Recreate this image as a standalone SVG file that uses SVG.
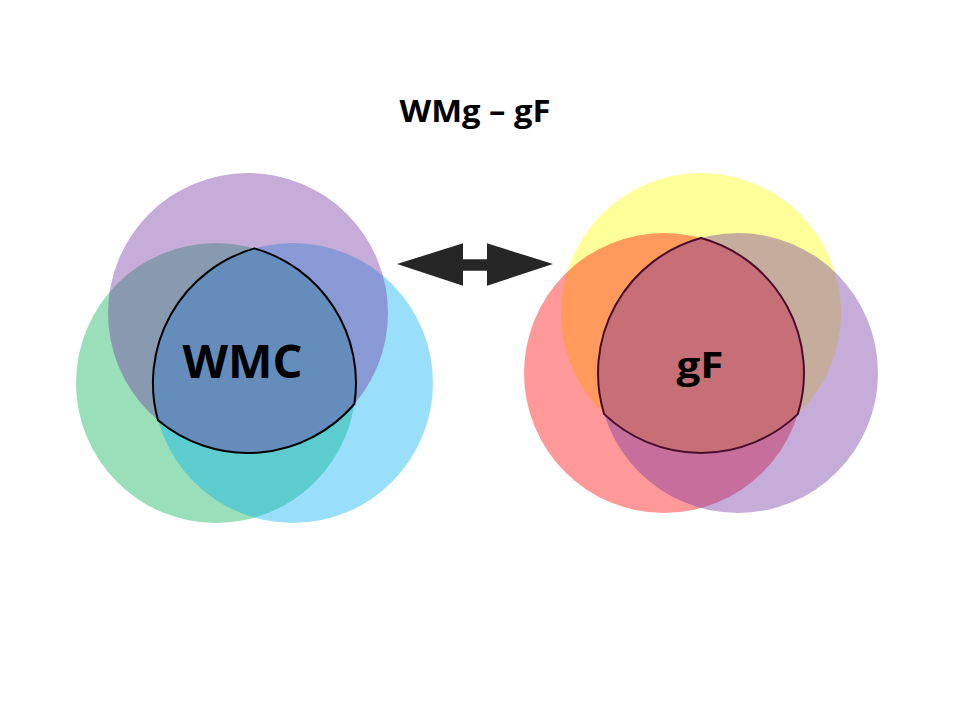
<svg xmlns="http://www.w3.org/2000/svg" width="960" height="720" viewBox="0 0 960 720">
  <style>
    .c { fill-opacity: 0.4; stroke: none; }
    .lbl { font-family: "Open Sans", "Liberation Sans", sans-serif; font-weight: bold; fill: #000; text-anchor: middle; }
    .outline { fill: none; stroke-width: 2; }
  </style>
  <rect width="960" height="720" fill="#ffffff"/>
  <g id="title">
    <text class="lbl" x="475" y="121.5" font-size="30" textLength="151" lengthAdjust="spacingAndGlyphs">WMg – gF</text>
  </g>
  <g id="wmc-venn">
    <circle id="wmc-green" class="c" cx="216" cy="383" r="140" fill="#00B050"/>
    <circle id="wmc-cyan" class="c" cx="293" cy="383" r="140" fill="#00B0F0"/>
    <circle id="wmc-purple" class="c" cx="248" cy="313" r="140" fill="#7030A0"/>
    <path class="outline" stroke="#000000" d="M254.5 248.4 A140 140 0 0 0 158 420.3 A140 140 0 0 0 354.4 404 A140 140 0 0 0 254.5 248.4 Z"/>
    <text class="lbl" x="242.5" y="378.3" font-size="47" textLength="120" lengthAdjust="spacingAndGlyphs">WMC</text>
  </g>
  <g id="gf-venn">
    <circle id="gf-yellow" class="c" cx="701" cy="313" r="140" fill="#FFFF00"/>
    <circle id="gf-red" class="c" cx="664" cy="373" r="140" fill="#FF0000"/>
    <circle id="gf-purple" class="c" cx="738" cy="373" r="140" fill="#7030A0"/>
    <path class="outline" stroke="#4A0C2C" d="M701 238 A140 140 0 0 0 604.2 414.1 A140 140 0 0 0 797.8 414.1 A140 140 0 0 0 701 238 Z"/>
    <text class="lbl" x="700" y="378.3" font-size="36" textLength="47" lengthAdjust="spacingAndGlyphs">gF</text>
  </g>
  <g id="connectors">
    <polygon fill="#262626" points="397,264 463,243.3 463,259.3 487,259.3 487,243.3 553,264 487,285.7 487,270.7 463,270.7 463,285.7"/>
  </g>
</svg>
